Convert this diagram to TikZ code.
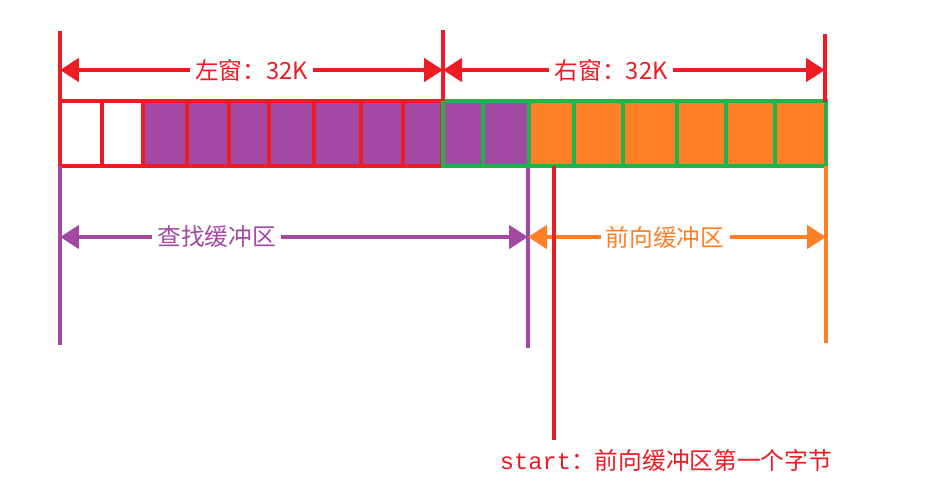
\documentclass[tikz,border=0pt]{standalone}
\usepackage{xcolor}
\usepackage{fontspec}
\newfontfamily\cjk{Noto Sans CJK SC}
\newfontfamily\monofnt{Liberation Mono}
\usetikzlibrary{arrows.meta}
\definecolor{winred}{HTML}{ED1C24}
\definecolor{bufpurple}{HTML}{A349A4}
\definecolor{wingreen}{HTML}{22B14C}
\definecolor{buforange}{HTML}{FF7F27}

\begin{document}
\begin{tikzpicture}[x=0.02cm,y=-0.02cm,>={Triangle[length=3.8mm,width=4.6mm]},
    dim/.style={<->,line width=2.8pt},
    tick/.style={line width=2.4pt},
    cell/.style={line width=2.3pt},
    lbl/.style={fill=white,inner sep=3pt,font=\cjk\fontsize{13.5}{16}\selectfont}]
    \useasboundingbox (0,0) rectangle (935,501);
    % buffer contents
    \fill[bufpurple] (143,101) rectangle (529,166);
    \fill[buforange] (529,101) rectangle (826,166);
    % left window
    \draw[winred,cell] (60,101) rectangle (442,166);
    \foreach \x in {102,143,187,229,269,314,361,403}
      \draw[winred,cell] (\x,101) -- (\x,166);
    % right window
    \draw[wingreen,cell] (443,101) rectangle (826,166);
    \foreach \x in {483,529,574,623,677,726,775}
      \draw[wingreen,cell] (\x,101) -- (\x,166);
    % window widths
    \coordinate (wl) at (60,70);
    \coordinate (wm) at (443,70);
    \coordinate (wr) at (825,70);
    \draw[winred,tick] (60,31) -- (60,101);
    \draw[winred,tick] (443,30) -- (443,101);
    \draw[winred,tick] (825,34) -- (825,102);
    \draw[winred,dim] (wl) -- (wm) node[lbl,pos=0.5] {左窗：32K};
    \draw[winred,dim] (wm) -- (wr) node[lbl,pos=0.44] {右窗：32K};
    % buffers
    \coordinate (bl) at (60,237);
    \coordinate (bm) at (528,237);
    \coordinate (br) at (826,237);
    \draw[bufpurple,tick] (60,166) -- (60,345);
    \draw[bufpurple,tick] (528,168) -- (528,348);
    \draw[buforange,tick] (826,166) -- (826,343);
    \draw[bufpurple,dim] (bl) -- (bm) node[lbl,pos=0.335] {查找缓冲区};
    \draw[buforange,dim] (bm) -- (br) node[lbl,pos=0.46] {前向缓冲区};
    % start
    \coordinate (sb) at (554,166);
    \node[lbl,text=winred] (start) at (666,460) {{\monofnt start}：前向缓冲区第一个字节};
    \draw[winred,tick] (sb) -- (sb |- 0,440);
\end{tikzpicture}
\end{document}
